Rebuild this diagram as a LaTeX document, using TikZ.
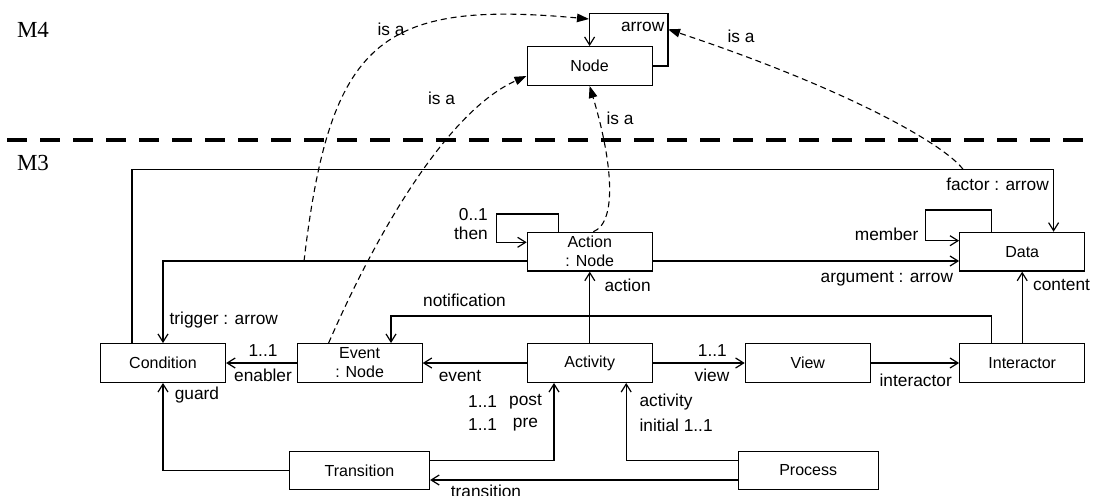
\documentclass[tikz,border=0pt]{standalone}
\usepackage{fontspec}
\setmainfont{Liberation Sans}
\newfontfamily\tnr{Liberation Serif}
\usetikzlibrary{arrows.meta}
\tikzset{
  box/.style={draw, line width=1.2pt, minimum width=125pt, minimum height=38.7pt, inner sep=0pt,
    align=center, font=\fontsize{16}{19}\selectfont},
  widebox/.style={box, minimum width=140pt},
  assoc/.style={draw, line width=1.2pt, -{Straight Barb[length=8pt,width=10pt,line width=1.2pt]}},
  isa/.style={draw, line width=1.1pt, dash pattern=on 6pt off 4pt, -{Triangle[length=12pt,width=8.5pt]}},
  lbl/.style={inner sep=0pt, font=\fontsize{17.3}{20}\selectfont},
  lvl/.style={inner sep=0pt, font=\tnr\fontsize{23}{26}\selectfont},
  sep/.style={line width=3.3pt, dash pattern=on 20pt off 13pt}
}
\begin{document}
\begin{tikzpicture}[x=1pt,y=-1pt]
\useasboundingbox (0,0) rectangle (1094,495);
% level labels and separator
\node[lvl] (m4) at (33,29.5) {M4};
\node[lvl] (m3) at (33,163.3) {M3};
\coordinate (sepL) at (7,140);
\coordinate (sepR) at (1094,140);
\draw[sep] (sepL) -- (sepR);
% nodes
\node[box] (nodeM4) at (589.6,66) {Node};
\node[box] (action) at (589.8,251.7) {Action\\: Node};
\node[box] (data) at (1022.2,251.7) {Data};
\node[box] (condition) at (163,363) {Condition};
\node[box] (event) at (359.6,363) {Event\\: Node};
\node[box] (activity) at (589.8,363) {Activity};
\node[box] (view) at (807.8,363) {View};
\node[box] (interactor) at (1022.2,363) {Interactor};
\node[widebox] (transition) at (359.5,470.5) {Transition};
\node[widebox] (process) at (808.2,470.5) {Process};
% coordinates for bends
\coordinate (loopR) at (668,13.3);
\coordinate (thenTL) at (496.3,214);
\coordinate (factorTR) at (1053.6,169.3);
\coordinate (memTL) at (925.2,210);
\coordinate (notifL) at (391,316);
% Node self loop
\draw[assoc] (nodeM4.east) -| (loopR) -| (nodeM4.north);
\node[lbl, anchor=east] (larrow) at (664.5,26.7) {arrow};
% Action then loop
\draw[assoc] ([xshift=-31.1pt]action.north) |- (thenTL) |- ([yshift=9.4pt]action.west);
\node[lbl, anchor=east] (l01) at (488,215) {0..1};
\node[lbl, anchor=east] (lthen) at (488,233.3) {then};
% trigger
\draw[assoc] ([yshift=-9.3pt]action.west) -| (condition.north);
\node[lbl, anchor=west] (ltrig) at (169.4,320) {trigger : arrow};
% argument
\draw[assoc] ([yshift=-9.3pt]action.east) -- ([yshift=-9.3pt]data.west);
\node[lbl, anchor=east] (larg) at (953.3,278.3) {argument : arrow};
% factor
\draw[assoc] ([xshift=-31.1pt]condition.north) |- (factorTR) -- (factorTR |- data.north);
\node[lbl, anchor=east] (lfac) at (1049,184) {factor : arrow};
% member loop
\draw[assoc] ([xshift=-31.1pt]data.north) |- (memTL) |- ([yshift=11pt]data.west);
\node[lbl, anchor=east] (lmem) at (918.5,234.3) {member};
% action
\draw[assoc] (activity.north) -- (action.south);
\node[lbl, anchor=west] (lact) at (604.3,285.7) {action};
% event
\draw[assoc] (activity.west) -- (event.east);
\node[lbl] (lev) at (460,375.7) {event};
% enabler
\draw[assoc] (event.west) -- (condition.east);
\node[lbl] (len1) at (263,351) {1..1};
\node[lbl] (len) at (263,375.7) {enabler};
% notification
\draw[assoc] ([xshift=-31.1pt]interactor.north) |- (notifL) -- ([xshift=31.4pt]event.north);
\node[lbl] (lnot) at (464.5,300.7) {notification};
% view
\draw[assoc] (activity.east) -- (view.west);
\node[lbl] (lv1) at (712.3,351) {1..1};
\node[lbl] (lv) at (712,375.7) {view};
% interactor
\draw[assoc] (view.east) -- (interactor.west);
\node[lbl] (lint) at (915.7,380.7) {interactor};
% content
\draw[assoc] (interactor.north) -- (data.south);
\node[lbl, anchor=west] (lcont) at (1033,285) {content};
% post / pre
\draw[assoc] ([yshift=10pt]transition.east) -| ([xshift=-35.8pt]activity.south);
\node[lbl, anchor=west] (lp1) at (468,401.7) {1..1};
\node[lbl, anchor=west] (lpost) at (509,401.7) {post};
\node[lbl, anchor=west] (lp2) at (468,425) {1..1};
\node[lbl, anchor=west] (lpre) at (512.7,425) {pre};
% guard
\draw[assoc] (transition.west) -| (condition.south);
\node[lbl, anchor=west] (lguard) at (174.6,395) {guard};
% process -> activity
\draw[assoc] ([yshift=10pt]process.west) -| ([xshift=36.4pt]activity.south);
\node[lbl, anchor=west] (lactv) at (639.4,401.7) {activity};
\node[lbl, anchor=west] (linit) at (639.4,425) {initial 1..1};
% process -> transition
\draw[assoc] ([yshift=-9.5pt]process.west) -- ([yshift=-9.5pt]transition.east);
\node[lbl, anchor=north] (ltr) at (486,485) {transition};
% is a curves
\coordinate (c1s) at (304,261.3);
\coordinate (c1e) at (589,19);
\draw[isa] (c1s) .. controls (330,40) and (380,0) .. (c1e);
\node[lbl] (isa1) at (391,29.3) {is a};
\draw[isa] ([xshift=-31pt]event.north) .. controls (380,225) and (450,110) .. ([yshift=-10pt]nodeM4.west);
\node[lbl] (isa2) at (441.5,98.3) {is a};
\draw[isa] ([xshift=3.5pt]action.north) .. controls (618,222) and (612,160) .. (nodeM4.south);
\node[lbl] (isa3) at (620,118.3) {is a};
\coordinate (c4s) at (963,169.3);
\coordinate (c4e) at (668,29.3);
\draw[isa] (c4s) .. controls (945,145) and (850,90) .. (c4e);
\node[lbl] (isa4) at (741,36) {is a};
\end{tikzpicture}
\end{document}
